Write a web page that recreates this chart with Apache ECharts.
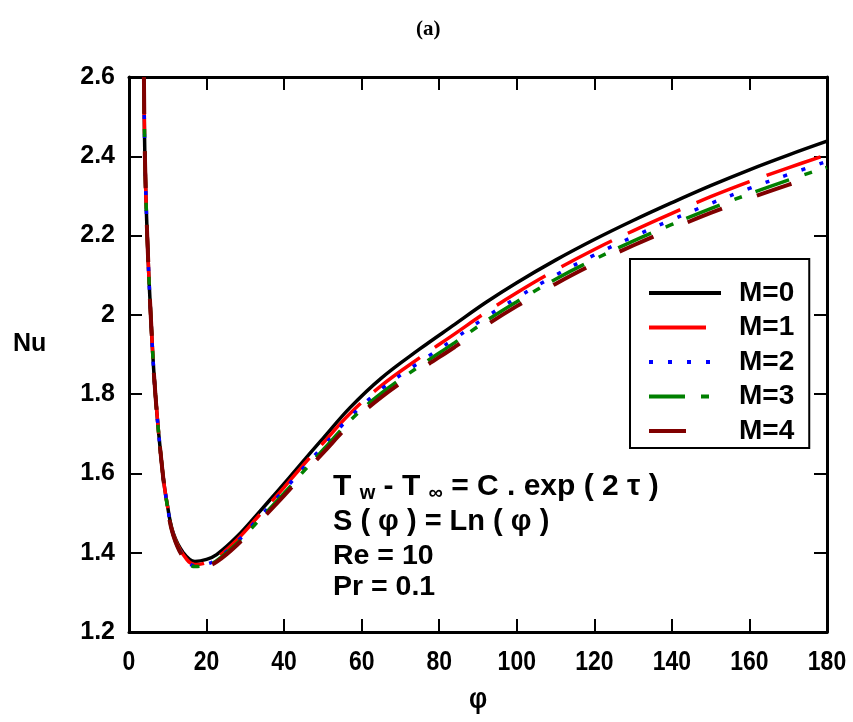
<!DOCTYPE html>
<html>
<head>
<meta charset="utf-8">
<script src="https://cdn.jsdelivr.net/npm/echarts@6/dist/echarts.min.js"></script>
<style>html,body{margin:0;padding:0;background:#fff;}#c{width:853px;height:722px;}</style>
</head>
<body>
<div id="c"></div>
<script>
const xTicks = [0, 20, 40, 60, 80, 100, 120, 140, 160, 180];
const yTicks = [1.2, 1.4, 1.6, 1.8, 2, 2.2, 2.4, 2.6];
const seriesNames = ['M=0', 'M=1', 'M=2', 'M=3', 'M=4'];
const phi = [3.85, 4.1, 4.7, 5.6, 6.8, 8.7, 9.9, 11.4, 14, 17, 20, 22.6, 27.8, 33.8, 40, 46, 50, 57, 65, 75, 84, 92, 100, 110, 120, 130, 140, 150, 160, 170, 180];
const m0 = [2.600, 2.400, 2.200, 2.000, 1.800, 1.600, 1.520, 1.450, 1.400, 1.378, 1.383, 1.395, 1.440, 1.505, 1.574, 1.643, 1.688, 1.766, 1.840, 1.914, 1.976, 2.031, 2.081, 2.138, 2.190, 2.238, 2.283, 2.326, 2.366, 2.403, 2.438];
const m1 = [2.600, 2.400, 2.200, 2.000, 1.800, 1.600, 1.519, 1.448, 1.395, 1.370, 1.375, 1.387, 1.432, 1.497, 1.565, 1.633, 1.676, 1.751, 1.821, 1.892, 1.952, 2.006, 2.056, 2.113, 2.165, 2.212, 2.256, 2.298, 2.336, 2.371, 2.404];
const m2 = [2.600, 2.400, 2.200, 2.000, 1.800, 1.600, 1.518, 1.446, 1.392, 1.367, 1.371, 1.383, 1.427, 1.491, 1.558, 1.625, 1.668, 1.742, 1.812, 1.881, 1.940, 1.994, 2.043, 2.100, 2.151, 2.197, 2.240, 2.281, 2.319, 2.354, 2.387];
const m3 = [2.600, 2.400, 2.200, 2.000, 1.800, 1.600, 1.517, 1.445, 1.390, 1.365, 1.369, 1.380, 1.423, 1.485, 1.550, 1.616, 1.659, 1.733, 1.802, 1.871, 1.930, 1.984, 2.033, 2.090, 2.140, 2.186, 2.228, 2.268, 2.305, 2.340, 2.372];
const m4 = [2.600, 2.400, 2.200, 2.000, 1.800, 1.600, 1.516, 1.444, 1.388, 1.363, 1.366, 1.377, 1.419, 1.480, 1.544, 1.609, 1.651, 1.724, 1.792, 1.861, 1.919, 1.973, 2.022, 2.078, 2.129, 2.175, 2.217, 2.257, 2.294, 2.328, 2.360];

const allValues = [m0, m1, m2, m3, m4];
const colors = ['#000000', '#ff0000', '#0000ff', '#008000', '#800000'];
const dashes = ['solid', [57, 18], [4, 15], [36, 16, 8, 14], [37, 37]];
const widths = [3.5, 3.5, 3.5, 3.5, 4];

const SANS = "'Liberation Sans', Arial, Helvetica, sans-serif";

const chart = echarts.init(document.getElementById('c'), null, {renderer: 'canvas'});
const xMin = xTicks[0], xMax = xTicks[xTicks.length - 1];
const yMin = yTicks[0], yMax = yTicks[yTicks.length - 1];

const axisCommon = {
  type: 'value', splitLine: {show: false},
  axisLine: {show: true, onZero: false, lineStyle: {color: '#000', width: 3}},
  axisTick: {show: true, inside: true, length: 13, lineStyle: {color: '#000', width: 2}}
};

const baseGraphics = [
  {type: 'text', left: 433 - 17, top: 19, style: {text: '(a)', fontSize: 21, fontWeight: 'bold', fontFamily: "'Liberation Serif', 'Times New Roman', serif", fill: '#000'}},
  {type: 'text', x: 13, y: 344, style: {text: 'Nu', fontSize: 25, fontWeight: 'bold', fontFamily: SANS, fill: '#000', verticalAlign: 'middle'}},
  {type: 'text', x: 478, y: 700, scaleX: 0.85, style: {text: 'φ', fontSize: 30, fontWeight: 'bold', fontFamily: SANS, fill: '#000', align: 'center', verticalAlign: 'middle'}},
  {type: 'text', x: 333, y: 470, style: {
    text: '{a|T }{s|w}{a| - T }{s|∞}{a| = C . exp ( 2 τ )}',
    fill: '#000', verticalAlign: 'top',
    rich: {
      a: {fontSize: 30, fontWeight: 'bold', fontFamily: SANS, lineHeight: 33, fill: '#000'},
      s: {fontSize: 20, fontWeight: 'bold', fontFamily: SANS, lineHeight: 20, verticalAlign: 'bottom', fill: '#000'}
    }}},
  {type: 'text', x: 333, y: 522, style: {text: 'S ( φ ) = Ln ( φ )', fontSize: 29, fontWeight: 'bold', fontFamily: SANS, fill: '#000', verticalAlign: 'middle'}},
  {type: 'text', x: 333, y: 556, style: {text: 'Re = 10', fontSize: 28.5, fontWeight: 'bold', fontFamily: SANS, fill: '#000', verticalAlign: 'middle'}},
  {type: 'text', x: 333, y: 587, style: {text: 'Pr = 0.1', fontSize: 28.5, fontWeight: 'bold', fontFamily: SANS, fill: '#000', verticalAlign: 'middle'}}
];

chart.setOption({
  animation: false,
  backgroundColor: '#fff',
  grid: {left: 129, right: 26, top: 77, bottom: 90, containLabel: false},
  xAxis: [
    Object.assign({}, axisCommon, {min: xMin, max: xMax, interval: 20, position: 'bottom', axisLabel: {show: false}}),
    Object.assign({}, axisCommon, {min: xMin, max: xMax, interval: 20, position: 'top', axisLabel: {show: false}})
  ],
  yAxis: [
    Object.assign({}, axisCommon, {min: yMin, max: yMax, interval: 0.2, position: 'left',
      axisLabel: {show: true, margin: 14, color: '#000', fontSize: 25, fontWeight: 'bold', fontFamily: SANS,
        formatter: v => String(+v.toFixed(1))}}),
    Object.assign({}, axisCommon, {min: yMin, max: yMax, interval: 0.2, position: 'right', axisLabel: {show: false}})
  ],
  legend: {
    orient: 'vertical', left: 630, top: 259,
    data: seriesNames,
    backgroundColor: '#fff',
    borderColor: '#000', borderWidth: 2, borderRadius: 0,
    padding: [20, 15, 3, 17],
    itemWidth: 72, itemHeight: 28, itemGap: 6.5,
    itemStyle: {opacity: 0, borderWidth: 0},
    lineStyle: {width: 4},
    textStyle: {color: '#000', fontSize: 28, fontWeight: 'bold', fontFamily: SANS, lineHeight: 28, padding: [0, 0, 0, 13]}
  },
  series: seriesNames.map((name, i) => ({
    name: name, type: 'line',
    xAxisIndex: 0, yAxisIndex: 0,
    data: phi.map((p, k) => [p, allValues[i][k]]),
    showSymbol: false, symbol: 'none',
    smooth: 0.4,
    clip: true,
    lineStyle: {color: colors[i], width: widths[i], type: dashes[i], cap: 'butt'},
    itemStyle: {color: colors[i]},
    z: 2 + i
  })),
  graphic: baseGraphics
});

// x tick labels (condensed bold), positioned through the axis scale
const xLabelGraphics = xTicks.map(v => {
  const px = chart.convertToPixel({xAxisIndex: 0}, v);
  return {type: 'text', x: px, y: 662, scaleX: 0.82,
    style: {text: String(v), fontSize: 28, fontWeight: 'bold', fontFamily: SANS, fill: '#000', align: 'center', verticalAlign: 'middle'}};
});
chart.setOption({graphic: baseGraphics.concat(xLabelGraphics)});
</script>
</body>
</html>
